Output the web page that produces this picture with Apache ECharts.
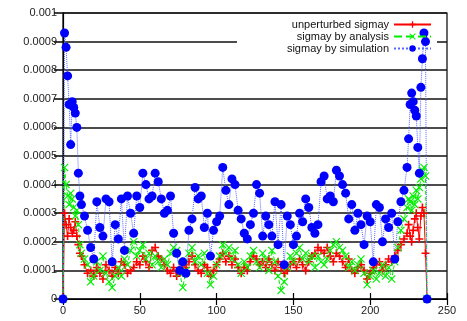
<!DOCTYPE html>
<html>
<head>
<meta charset="utf-8" />
<title></title>
<script src="https://cdn.jsdelivr.net/npm/echarts@6/dist/echarts.min.js"></script>
</head>
<body style="margin:0">
<div id="main" style="width:467px;height:321px;"></div>
<script>
// values are in units of 1e-4
var UNIT = 1e-4;
var xs = [0,1,2,3,4,5,6,7,8,9,10,11,
  12,14,16,18,20,22,24,26,28,30,32,34,36,38,40,42,44,46,48,50,
  52,54,56,58,60,62,64,66,68,70,72,74,76,78,80,82,84,86,88,90,
  92,94,96,98,100,102,104,106,108,110,112,114,116,118,120,122,124,126,128,130,
  132,134,136,138,140,142,144,146,148,150,152,154,156,158,160,162,164,166,168,170,
  172,174,176,178,180,182,184,186,188,190,192,194,196,198,200,202,204,206,208,210,
  212,214,216,218,220,222,
  224,225,226,227,228,229,230,231,232,233,234,235,236,237];

var unperturbed = [0,3.0,2.6,2.2,2.8,2.5,2.3,2.4,2.7,2.2,1.9,1.6,
  1.5,1.2,0.9,1.0,0.8,1.1,0.9,0.7,1.2,1.0,0.8,1.1,0.9,1.3,1.2,0.9,1.0,1.1,1.3,1.2,
  1.5,1.3,1.1,1.7,1.8,1.5,1.4,1.2,1.0,0.9,1.1,0.8,1.0,1.2,1.1,1.3,1.5,1.2,1.0,0.9,
  1.2,1.1,0.8,1.0,1.2,1.4,1.6,1.3,1.5,1.2,1.4,1.1,0.9,1.1,1.0,1.3,1.5,1.4,1.2,1.3,
  1.1,1.4,1.2,1.0,1.3,1.1,0.9,1.0,1.2,1.3,1.1,1.4,1.2,1.0,1.3,1.5,1.6,1.8,1.7,1.6,
  1.8,1.5,1.3,1.6,1.5,1.3,1.1,1.4,1.0,0.9,1.1,1.2,1.0,0.7,0.9,1.1,1.2,1.3,1.0,1.2,
  1.4,1.3,1.5,1.7,1.9,2.1,
  2.3,2.6,2.2,2.0,2.4,2.8,3.0,2.5,2.1,2.9,3.2,3.0,1.6,0];

var analysis = [0,4.6,4.0,3.6,3.3,3.7,3.5,3.2,2.9,3.1,2.6,1.9,
  1.6,1.4,1.2,0.6,0.8,1.3,1.0,1.5,0.9,0.6,0.4,0.8,1.1,0.8,1.4,1.2,1.7,2.0,1.5,1.7,
  1.9,1.4,1.6,1.2,1.5,1.3,1.1,1.4,1.2,1.6,1.8,1.7,0.9,0.4,1.0,1.6,1.8,1.3,1.5,1.2,
  1.6,0.9,0.5,0.8,1.2,1.5,1.9,1.6,1.8,1.4,1.7,1.2,0.9,1.3,1.1,1.5,1.7,1.3,1.1,1.6,
  1.4,1.0,1.7,1.3,0.8,0.3,0.6,1.1,1.5,1.3,1.6,1.8,1.4,1.6,1.3,1.5,1.1,1.5,1.3,1.2,
  1.4,1.7,1.9,2.0,1.8,1.7,1.5,1.1,1.3,1.0,1.2,1.4,0.9,0.5,0.8,1.0,0.7,0.9,1.2,0.8,
  1.1,0.7,1.3,1.8,2.4,2.8,
  3.2,3.5,3.4,3.1,3.6,3.3,3.8,3.5,3.9,4.2,4.5,4.6,4.3,0];

var simulation = [0,9.3,8.8,7.8,6.8,5.4,6.9,6.7,6.5,6.0,4.4,3.6,
  3.3,2.9,2.4,1.8,1.4,3.4,2.5,2.2,3.5,3.4,1.3,2.6,2.1,3.5,1.7,3.6,3.0,2.3,3.6,3.2,
  4.4,4.0,3.5,3.6,4.4,4.1,3.5,3.0,3.1,3.6,2.3,1.6,1.0,1.3,0.9,2.4,2.8,3.9,3.5,3.6,
  2.5,3.0,1.5,2.4,2.7,2.9,4.6,3.8,3.3,4.2,4.0,3.1,2.8,2.3,2.1,2.6,3.0,4.0,3.7,2.2,
  2.9,2.6,2.2,3.4,1.9,3.3,1.2,2.9,2.6,1.9,2.2,3.0,2.7,3.5,3.2,2.5,2.3,2.6,4.1,4.3,
  3.5,3.6,3.4,4.5,4.3,4.0,3.7,2.8,3.3,2.4,3.0,2.6,1.9,2.9,2.7,1.3,3.3,3.2,2.0,2.8,
  2.5,3.0,1.4,2.7,3.4,3.8,
  4.6,5.6,6.8,7.2,6.9,6.6,6.4,5.3,4.4,7.4,8.4,9.3,9.0,0];

var names = ['unperturbed sigmay', 'sigmay by analysis', 'sigmay by simulation'];
var xTicks = [0, 50, 100, 150, 200, 250];

function pairs(vals) {
  return xs.map(function (x, i) { return [x, vals[i] * UNIT]; });
}

var plusSym = 'path://M4,0H6V4H10V6H6V10H4V6H0V4H4Z';
var crossSym = 'path://M1,0L5,4L9,0L10,1L6,5L10,9L9,10L5,6L1,10L0,9L4,5L0,1Z';
var font = 'Liberation Sans';

var myChart = echarts.init(document.getElementById('main'));
function legendAt(name, top) {
  return {
    data: [name], right: 35, top: top, orient: 'vertical', align: 'right',
    itemWidth: 37, itemHeight: 8, padding: 0, z: 4,
    textStyle: { fontFamily: font, fontSize: 11, color: '#111' }
  };
}
var option = {
  animation: false,
  backgroundColor: '#fff',
  grid: { left: 63, right: 20, top: 13, bottom: 22, show: true, borderColor: '#000', borderWidth: 1.2 },
  graphic: [{
    type: 'rect', z: 1, silent: true,
    shape: { x: 237, y: 15, width: 200, height: 40 },
    style: { fill: '#fff' }
  }],
  legend: [legendAt(names[0], 19), legendAt(names[1], 31), legendAt(names[2], 43)],
  xAxis: [{
    type: 'value', min: xTicks[0], max: xTicks[xTicks.length - 1], interval: 50,
    axisLine: { show: true, lineStyle: { color: '#000', width: 1.2 } },
    axisTick: { show: true, inside: true, length: 6, lineStyle: { color: '#000', width: 1.2 } },
    axisLabel: { fontFamily: font, fontSize: 11, color: '#222', margin: 6 },
    splitLine: { show: false }
  }, {
    type: 'value', position: 'top', min: 0, max: 250, interval: 50, z: 2,
    axisLine: { show: false },
    axisTick: { show: true, inside: true, length: 6, lineStyle: { color: '#000', width: 1.2 } },
    axisLabel: { show: false }, splitLine: { show: false }
  }],
  yAxis: [{
    type: 'value', min: 0, max: 0.001, interval: 0.0001, z: 0,
    axisLine: { show: true, lineStyle: { color: '#000', width: 1.2 } },
    axisTick: { show: false },
    axisLabel: {
      fontFamily: font, fontSize: 11, color: '#222', margin: 6,
      formatter: function (v) { return String(Number(v.toFixed(4))); }
    },
    splitLine: { show: true, lineStyle: { color: '#111', width: 1.6 } }
  }, {
    type: 'value', position: 'right', min: 0, max: 0.001, interval: 0.0001, z: 2,
    axisLine: { show: false },
    axisTick: { show: true, inside: true, length: 9, lineStyle: { color: '#111', width: 1.6 } },
    axisLabel: { show: false }, splitLine: { show: false }
  }],
  series: [{
    name: names[0], type: 'line', z: 3, data: pairs(unperturbed),
    symbol: plusSym, symbolSize: 8, showAllSymbol: true,
    itemStyle: { color: '#ff0000' },
    lineStyle: { color: '#ff0000', width: 1 }
  }, {
    name: names[1], type: 'line', z: 3, data: pairs(analysis),
    symbol: crossSym, symbolSize: 8, showAllSymbol: true,
    itemStyle: { color: '#00ee00' },
    lineStyle: { color: '#00ee00', width: 1, type: 'dashed' }
  }, {
    name: names[2], type: 'line', z: 3, data: pairs(simulation),
    symbol: 'circle', symbolSize: 9, showAllSymbol: true,
    itemStyle: { color: '#0000ff' },
    lineStyle: { color: '#5566ff', width: 1, type: 'dotted' }
  }]
};
myChart.setOption(option);
</script>
</body>
</html>
